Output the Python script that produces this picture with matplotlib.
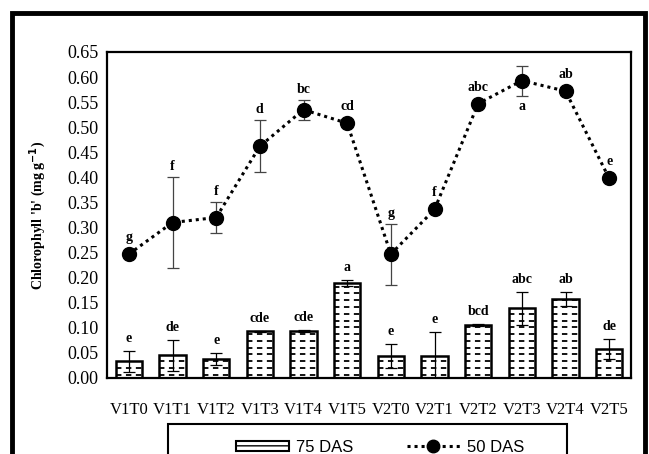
import matplotlib.pyplot as plt
import numpy as np
from matplotlib.patches import Rectangle, Patch
from matplotlib.lines import Line2D

labels = ['V1T0', 'V1T1', 'V1T2', 'V1T3', 'V1T4', 'V1T5',
          'V2T0', 'V2T1', 'V2T2', 'V2T3', 'V2T4', 'V2T5']

# 75 DAS (bars)
das75 = [0.033, 0.045, 0.037, 0.093, 0.094, 0.190,
         0.044, 0.044, 0.105, 0.139, 0.158, 0.058]
das75_err = [0.021, 0.031, 0.012, 0.001, 0.002, 0.006,
             0.024, 0.048, 0.002, 0.033, 0.014, 0.020]
das75_sig = ['e', 'de', 'e', 'cde', 'cde', 'a',
             'e', 'e', 'bcd', 'abc', 'ab', 'de']

# 50 DAS (line)
das50 = [0.247, 0.310, 0.320, 0.462, 0.535, 0.508,
         0.247, 0.336, 0.547, 0.593, 0.572, 0.398]
das50_err = [0.0, 0.090, 0.030, 0.052, 0.020, 0.004,
             0.061, 0.0, 0.0, 0.030, 0.008, 0.0]
das50_sig = ['g', 'f', 'f', 'd', 'bc', 'cd',
             'g', 'f', 'abc', 'a', 'ab', 'e']

serif = ['Liberation Serif', 'DejaVu Serif']
sans = ['Liberation Sans', 'DejaVu Sans']

fig = plt.figure(figsize=(6.49, 4.54), dpi=100)
ax = fig.add_axes([107/649, 1 - 378/454, 524/649, 326/454])

x = np.arange(len(labels))
w = 0.6
bars = ax.bar(x, das75, w, color='white', edgecolor='black', linewidth=1.8, zorder=2)
ax.errorbar(x, das75, yerr=das75_err, fmt='none', ecolor='black',
            elinewidth=0.9, capsize=4, capthick=0.9, zorder=4)

# dashed fill lines inside each bar
for b, h in zip(bars, das75):
    for yy in np.arange(0.0065, h, 0.0135):
        ln = ax.hlines(yy, b.get_x(), b.get_x() + w, colors='black',
                       linewidth=1.3, linestyles=(0, (3, 2.5)), zorder=3)
        ln.set_clip_path(b)

ax.errorbar(x, das50, yerr=das50_err, fmt='none', ecolor='#444444',
            elinewidth=0.9, capsize=4, capthick=0.9, zorder=4)
ax.plot(x, das50, color='black', linestyle=(0, (1, 1.3)), linewidth=2.2,
        marker='o', markersize=10, zorder=5)

for i in range(len(labels)):
    ax.text(x[i], das75[i] + das75_err[i] + 0.012, das75_sig[i], ha='center',
            va='bottom', fontsize=10, fontweight='bold', family=serif)
    if das50_sig[i] == 'a':
        ax.text(x[i], das50[i] - das50_err[i] - 0.008, das50_sig[i], ha='center',
                va='top', fontsize=10, fontweight='bold', family=serif)
    else:
        ax.text(x[i], das50[i] + max(das50_err[i], 0.012) + 0.008, das50_sig[i],
                ha='center', va='bottom', fontsize=10, fontweight='bold', family=serif)

ax.set_xlim(-0.5, 11.5)
ax.set_ylim(0, 0.65)
ax.set_yticks(np.arange(0, 0.651, 0.05))
ax.set_yticklabels([f'{v:.2f}' for v in np.arange(0, 0.651, 0.05)], family=serif, fontsize=13)
ax.set_xticks(x)
ax.set_xticklabels(labels, family=serif, fontsize=12)
ax.tick_params(axis='both', length=0)
ax.tick_params(axis='x', pad=17)
ax.tick_params(axis='y', pad=6)
for s in ax.spines.values():
    s.set_linewidth(1.6)

ax.set_ylabel("Chlorophyll 'b' (mg g$^{\\mathbf{-1}}$)", family=serif, fontsize=10,
              fontweight='bold', labelpad=14)

handles = [Patch(facecolor='white', edgecolor='black', hatch='--', linewidth=1.5),
           Line2D([0], [0], color='black', linestyle=(0, (1, 1.3)), linewidth=2.2,
                  marker='o', markersize=9)]
leg = fig.legend(handles, ['75 DAS', '50 DAS'], loc='upper center',
                 bbox_to_anchor=(380/649, 1 - 425/454), ncol=2, frameon=False,
                 prop={'family': sans, 'size': 12}, handlelength=3.2,
                 handleheight=0.6, handletextpad=0.4, columnspacing=3.2)

# legend box and outer frame
fig.patches.append(Rectangle((168/649, -0.05), 399/649, 0.05 + 1 - 424/454,
                             transform=fig.transFigure, fill=False,
                             edgecolor='black', linewidth=1.5))
fig.patches.append(Rectangle((12/649, -0.05), 633/649, 1.05 - 13/454,
                             transform=fig.transFigure, fill=False,
                             edgecolor='black', linewidth=3.5))

fig.savefig('out.png', dpi=100)
